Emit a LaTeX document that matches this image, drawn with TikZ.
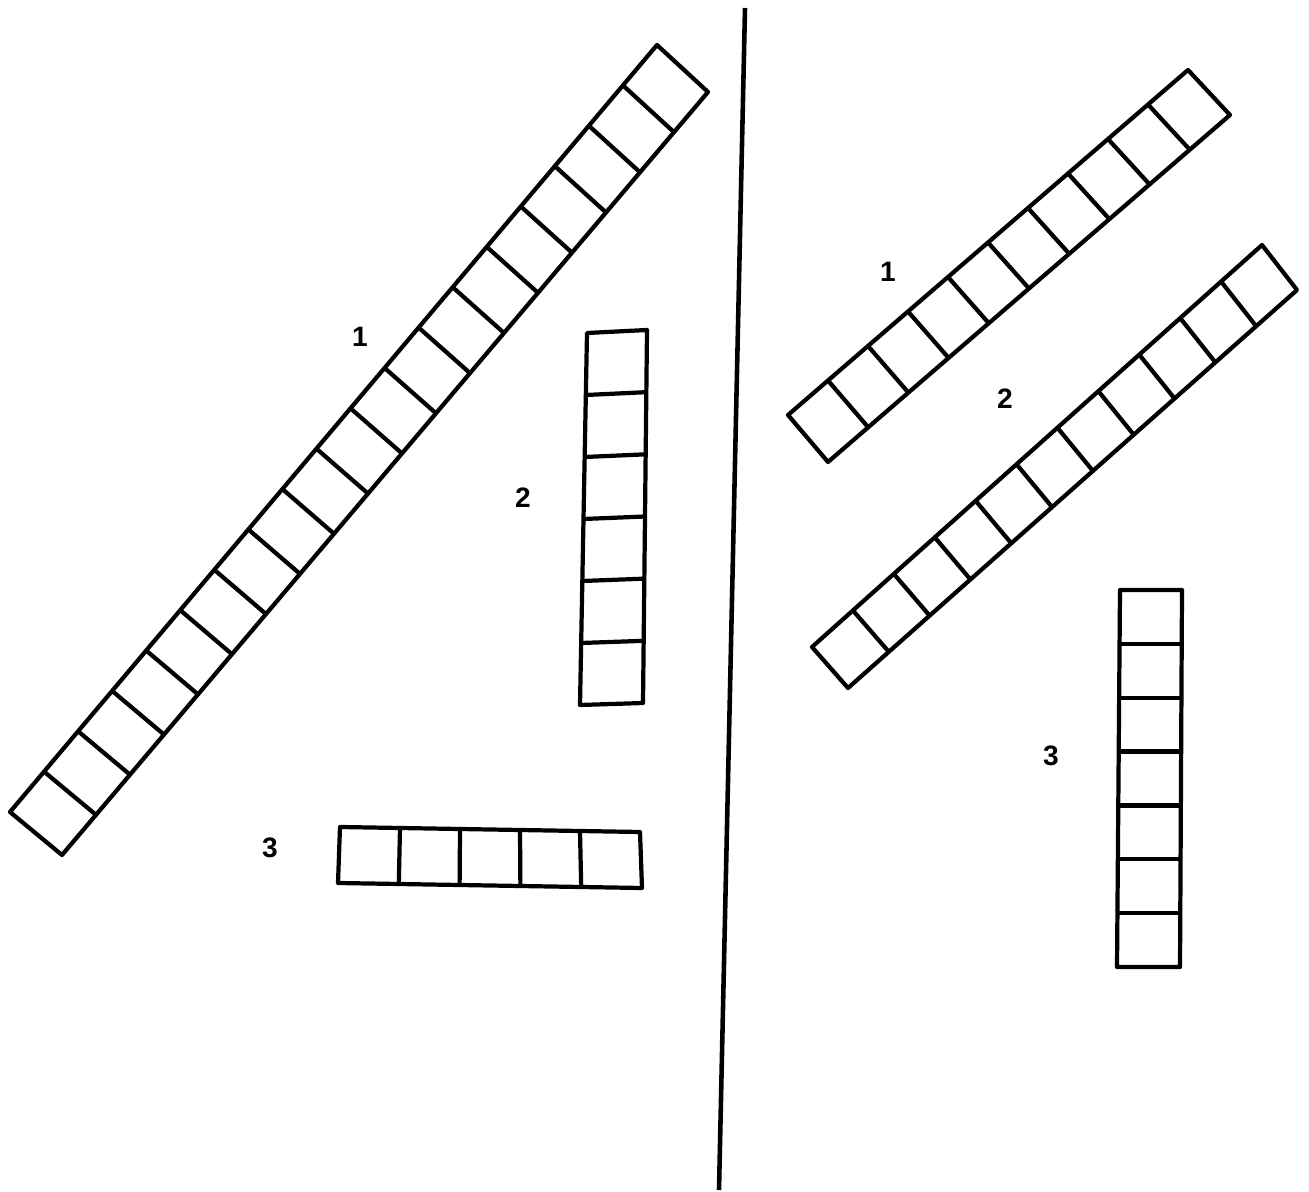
\documentclass[tikz,border=0pt]{standalone}
\usepackage{fontspec}
\setmainfont{Liberation Sans}
\usetikzlibrary{calc}

\tikzset{
  strip/.style={line width=2.4pt, line join=round},
  lbl/.style={font=\fontsize{16}{18}\selectfont\bfseries, inner sep=0pt}
}

\begin{document}
\begin{tikzpicture}[x=0.02cm, y=-0.02cm]
  \useasboundingbox (0,0) rectangle (1309,1192);

  % left half
  \coordinate (L1-A) at (10, 812);
  \coordinate (L1-B) at (62, 855);
  \coordinate (L1-C) at (657, 45);
  \coordinate (L1-D) at (708, 92);

  \coordinate (L2-A) at (587, 333);
  \coordinate (L2-B) at (647, 330);
  \coordinate (L2-C) at (580, 705);
  \coordinate (L2-D) at (643, 703);

  \coordinate (L3-A) at (340, 827);
  \coordinate (L3-B) at (338, 883);
  \coordinate (L3-C) at (640, 832);
  \coordinate (L3-D) at (642, 888);

  \node[lbl] (l1) at (360, 337) {1};
  \node[lbl] (l2) at (523, 498) {2};
  \node[lbl] (l3) at (270, 848) {3};

  % right half
  \coordinate (R1-A) at (788, 415);
  \coordinate (R1-B) at (828, 462);
  \coordinate (R1-C) at (1188, 70);
  \coordinate (R1-D) at (1230, 115);

  \coordinate (R2-A) at (812, 647);
  \coordinate (R2-B) at (848, 688);
  \coordinate (R2-C) at (1262, 245);
  \coordinate (R2-D) at (1297, 290);

  \coordinate (R3-A) at (1120, 590);
  \coordinate (R3-B) at (1182, 590);
  \coordinate (R3-C) at (1117, 967);
  \coordinate (R3-D) at (1180, 967);

  \node[lbl] (r1) at (888, 272) {1};
  \node[lbl] (r2) at (1005, 399) {2};
  \node[lbl] (r3) at (1051, 756) {3};

  % dividing line
  \coordinate (T) at (745, 8);
  \coordinate (U) at (719, 1190);
  \draw[line width=2.6pt] (T) -- (U);

  % strips of cells
  \foreach \s/\n in {L1/19, L2/6, L3/5, R1/10, R2/11, R3/7} {
    \draw[strip] (\s-A) -- (\s-B) -- (\s-D) -- (\s-C) -- cycle;
    \pgfmathtruncatemacro\m{\n-1}
    \foreach \i in {1,...,\m}
      \draw[strip] ($(\s-A)!\i/\n!(\s-C)$) -- ($(\s-B)!\i/\n!(\s-D)$);
  }
\end{tikzpicture}
\end{document}
